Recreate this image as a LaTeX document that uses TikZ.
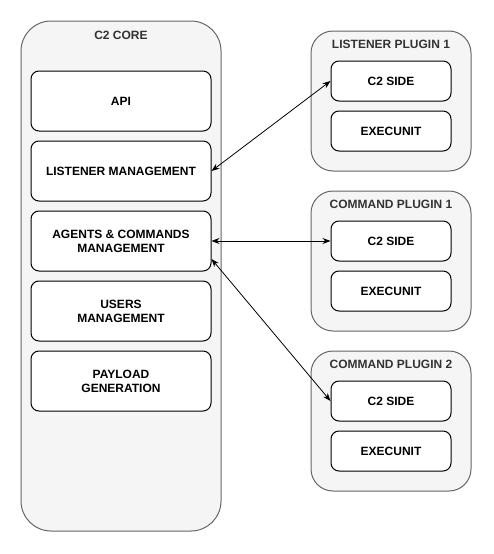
\documentclass[tikz,border=0pt]{standalone}
\usepackage{fontspec}
\setmainfont{Liberation Sans}
\usetikzlibrary{arrows.meta}
\definecolor{cfill}{HTML}{F5F5F5}
\definecolor{cline}{HTML}{666666}
\definecolor{ctitle}{HTML}{333333}
\tikzset{
  container/.style={draw=cline, fill=cfill, rounded corners=#1, line width=1pt},
  inbox/.style={draw=black, fill=white, rounded corners=8pt, line width=1pt, align=center, font=\fontsize{12}{14}\selectfont\bfseries},
  title/.style={text=ctitle, font=\fontsize{12}{14}\selectfont\bfseries},
  link/.style={{Stealth[length=8pt,width=6pt]}-{Stealth[length=8pt,width=6pt]}, line width=0.8pt, black}
}
\begin{document}
\begin{tikzpicture}[x=1pt,y=-1pt]
\useasboundingbox (0,0) rectangle (494,554);
% C2 core
\draw[container=30pt] (21,21) rectangle (221,531);
\node[title] (coret) at (121,35) {C2 CORE};
\node[inbox, minimum width=180pt, minimum height=60pt] (api) at (121,101) {API};
\node[inbox, minimum width=180pt, minimum height=60pt] (lm) at (121,171) {LISTENER MANAGEMENT};
\node[inbox, minimum width=180pt, minimum height=60pt] (ag) at (121,241) {AGENTS \& COMMANDS\\MANAGEMENT};
\node[inbox, minimum width=180pt, minimum height=60pt] (us) at (121,311) {USERS\\MANAGEMENT};
\node[inbox, minimum width=180pt, minimum height=60pt] (pg) at (121,381) {PAYLOAD\\GENERATION};
% plugins
\draw[container=22pt] (311,31) rectangle (471,171);
\node[title] (lp1t) at (391,44) {LISTENER PLUGIN 1};
\node[inbox, minimum width=120pt, minimum height=40pt] (lp1c) at (391,81) {C2 SIDE};
\node[inbox, minimum width=120pt, minimum height=40pt] (lp1e) at (391,131) {EXECUNIT};
\draw[container=22pt] (311,191) rectangle (471,331);
\node[title] (cp1t) at (391,204) {COMMAND PLUGIN 1};
\node[inbox, minimum width=120pt, minimum height=40pt] (cp1c) at (391,241) {C2 SIDE};
\node[inbox, minimum width=120pt, minimum height=40pt] (cp1e) at (391,291) {EXECUNIT};
\draw[container=22pt] (311,351) rectangle (471,491);
\node[title] (cp2t) at (391,364) {COMMAND PLUGIN 2};
\node[inbox, minimum width=120pt, minimum height=40pt] (cp2c) at (391,401) {C2 SIDE};
\node[inbox, minimum width=120pt, minimum height=40pt] (cp2e) at (391,451) {EXECUNIT};
% links
\draw[link] (lm.east) -- (lp1c.west);
\draw[link] (ag.east) -- (cp1c.west);
\draw[link] ([yshift=-18pt]ag.east) -- (cp2c.west);
\end{tikzpicture}
\end{document}
